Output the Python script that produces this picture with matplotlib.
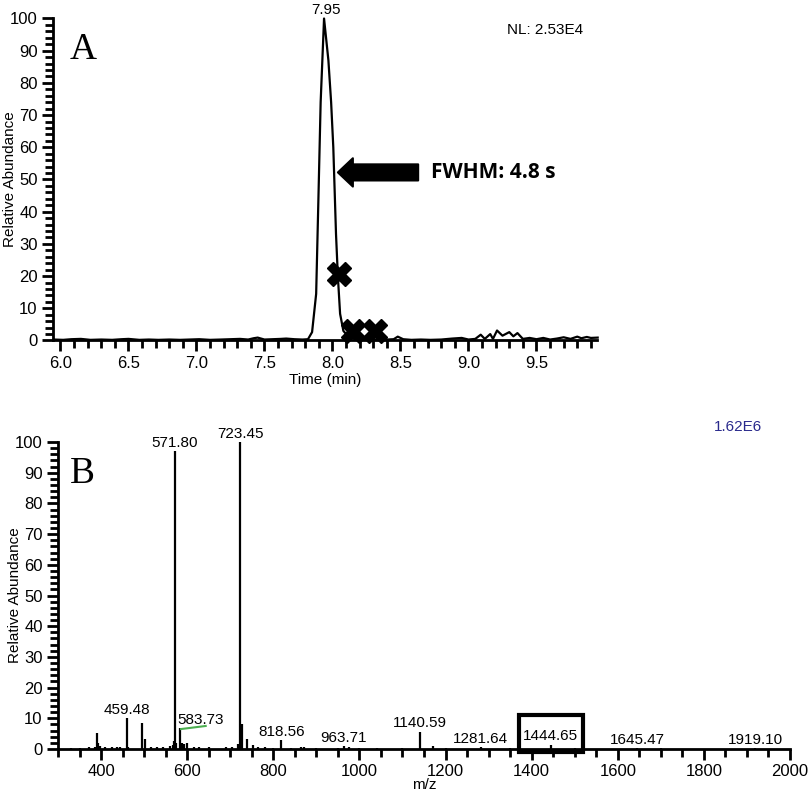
import numpy as np
import matplotlib.pyplot as plt
from matplotlib.patches import FancyArrow, Rectangle

plt.rcParams['font.family'] = ['Liberation Sans', 'DejaVu Sans']

###############################################################################
# Data

# Panel A: chromatogram (time in min, relative abundance)
time_min = [5.95, 6.02, 6.08, 6.15, 6.22, 6.30, 6.38, 6.45, 6.50, 6.58, 6.65,
            6.72, 6.80, 6.88, 6.95, 7.02, 7.10, 7.18, 7.25, 7.32, 7.38, 7.42,
            7.45, 7.50, 7.56, 7.62, 7.66, 7.72, 7.78, 7.82, 7.85, 7.88, 7.896,
            7.913, 7.938, 7.97, 7.99, 8.006, 8.026, 8.04, 8.056, 8.08, 8.12,
            8.16, 8.20, 8.25, 8.30, 8.35, 8.40, 8.45, 8.48, 8.52, 8.58, 8.65,
            8.72, 8.80, 8.88, 8.95, 9.00, 9.05, 9.09, 9.12, 9.16, 9.18, 9.21,
            9.25, 9.30, 9.33, 9.36, 9.40, 9.45, 9.50, 9.55, 9.60, 9.65, 9.70,
            9.75, 9.80, 9.83, 9.87, 9.90, 9.95]
abundance = [0.3, 0.2, 0.4, 0.5, 0.2, 0.3, 0.2, 0.4, 0.5, 0.2, 0.3,
             0.2, 0.3, 0.2, 0.3, 0.4, 0.2, 0.3, 0.4, 0.5, 0.3, 0.7,
             0.9, 0.3, 0.4, 0.5, 0.6, 0.4, 0.3, 0.4, 2.6, 14.5, 43.0,
             74.0, 100.0, 87.0, 74.0, 60.0, 33.0, 19.6, 8.3, 3.0, 1.0,
             0.5, 0.3, 0.2, 0.3, 0.2, 0.3, 0.4, 1.2, 0.4, 0.2, 0.3,
             0.2, 0.3, 0.6, 0.8, 0.3, 0.5, 1.8, 0.5, 2.0, 0.5, 3.1,
             1.5, 2.6, 1.3, 2.3, 0.5, 0.8, 0.4, 0.8, 0.3, 0.6, 1.0,
             0.5, 1.2, 0.7, 1.1, 0.8, 0.9]
peak_time = 7.95
marker_t = [8.05, 8.153, 8.312]
marker_y = [20.6, 3.0, 3.0]

# Panel B: mass spectrum (m/z, relative abundance)
mz = [330, 350, 372, 385, 391, 394, 398, 410, 425, 438, 445, 459.48, 462,
      494, 503, 515, 530, 545, 560, 566, 569, 571.80, 575, 583.73, 588,
      592, 600, 615, 628, 650, 690, 705, 718, 721, 723.45, 727, 738,
      752, 765, 780, 800, 818.56, 840, 865, 872, 900, 950, 963.71, 975,
      1000, 1040, 1100, 1140.59, 1170, 1200, 1281.64, 1350, 1444.65,
      1500, 1645.47, 1700, 1919.10]
intensity = [0.3, 0.4, 0.5, 0.6, 5.3, 2.0, 1.0, 0.6, 0.8, 0.7, 0.5, 10.0, 0.8,
             8.4, 3.3, 0.6, 0.5, 0.7, 1.0, 1.3, 2.5, 97.0, 2.0, 6.7, 2.0,
             1.5, 1.8, 0.7, 0.5, 0.8, 0.5, 0.6, 1.6, 1.5, 100.0, 8.0, 3.2,
             1.4, 0.6, 0.5, 0.4, 2.8, 0.4, 0.8, 0.6, 0.3, 0.4, 1.0, 0.6,
             0.3, 0.4, 0.3, 5.6, 0.9, 0.4, 0.5, 0.3, 1.4,
             0.3, 0.3, 0.2, 0.3]
labelled_mz = ['459.48', '571.80', '583.73', '723.45', '818.56', '963.71',
               '1140.59', '1281.64', '1444.65', '1645.47', '1919.10']

###############################################################################
# Plot

fig = plt.figure(figsize=(8.1, 8.0), dpi=100)
axA = fig.add_axes([53 / 810, 1 - 340.5 / 800, 544 / 810, 322 / 800])
axB = fig.add_axes([58 / 810, 1 - 749 / 800, 732 / 810, 307 / 800])


def style_axes(ax):
    for s in ['top', 'right']:
        ax.spines[s].set_visible(False)
    for s in ['left', 'bottom']:
        ax.spines[s].set_linewidth(2)
    ax.tick_params(which='major', direction='out', length=8, width=2,
                   labelsize=12, pad=3)
    ax.tick_params(which='minor', direction='out', length=6, width=2)
    ax.set_ylim(0, 100)
    ax.set_yticks(np.arange(0, 101, 10))
    ax.set_yticks(np.arange(0, 101, 2), minor=True)
    ax.set_ylabel('Relative Abundance', fontsize=11)


# --- Panel A ---
axA.plot(time_min, abundance, color='black', lw=1.6, clip_on=False)
axA.plot(marker_t, marker_y, ls='none', marker='X', ms=17, color='black',
         clip_on=False, zorder=5)
style_axes(axA)
axA.set_xlim(5.945, 9.945)
axA.set_xticks(np.arange(6.0, 9.51, 0.5))
axA.set_xticks(np.arange(6.0, 9.95, 0.1), minor=True)
axA.xaxis.set_major_formatter(plt.FormatStrFormatter('%.1f'))
axA.set_xlabel('Time (min)', fontsize=11)
axA.xaxis.set_label_coords(0.5, -0.10)
axA.yaxis.set_label_coords(-0.066, 0.5)
axA.annotate(f'{peak_time:.2f}', xy=(peak_time, 100), xytext=(0, 1),
             textcoords='offset points', ha='center', va='bottom', fontsize=11)
axA.add_patch(FancyArrow(8.63, 52.2, -0.59, 0, width=5.0, head_width=8.8,
                         head_length=0.11, length_includes_head=True,
                         color='black', lw=1.5, joinstyle='round',
                         clip_on=False))
axA.text(8.725, 52.2, 'FWHM: 4.8 s', fontsize=15, fontweight='bold',
         family=['Open Sans', 'DejaVu Sans'], ha='left', va='center')
fig.text(545 / 810, 1 - 30 / 800, 'NL: 2.53E4', fontsize=11,
         ha='center', va='center')
fig.text(70 / 810, 1 - 50 / 800, 'A', fontsize=27,
         family=['Liberation Serif'], ha='left', va='center')

# --- Panel B ---
axB.vlines(mz, 0, intensity, color='black', lw=1.6)
style_axes(axB)
axB.set_xlim(300, 2000)
axB.set_xticks(np.arange(400, 2001, 200))
axB.set_xticks(np.arange(300, 2001, 50), minor=True)
axB.set_xlabel('m/z', fontsize=11)
axB.xaxis.set_label_coords(0.5, -0.094)
axB.yaxis.set_label_coords(-0.049, 0.5)

for lab in labelled_mz:
    x = float(lab)
    y = intensity[mz.index(x)]
    dx = 0
    if lab == '583.73':
        dx = 15
    axB.annotate(lab, xy=(x, y), xytext=(dx, 1), textcoords='offset points',
                 ha='center', va='bottom', fontsize=11)

# green leader line for 583.73
axB.plot([585.7, 643], [6.5, 7.5], color='#4caf50', lw=1.5)
# box around 1444.65
axB.add_patch(Rectangle((1371, -1.0), 148, 12.1, fill=False, ec='black',
                        lw=3, clip_on=False, zorder=6))
fig.text(738 / 810, 1 - 427 / 800, '1.62E6', fontsize=11,
         color='#2a2a8c', ha='center', va='center')
fig.text(70 / 810, 1 - 474 / 800, 'B', fontsize=27,
         family=['Liberation Serif'], ha='left', va='center')

fig.savefig('out.png', dpi=100)
